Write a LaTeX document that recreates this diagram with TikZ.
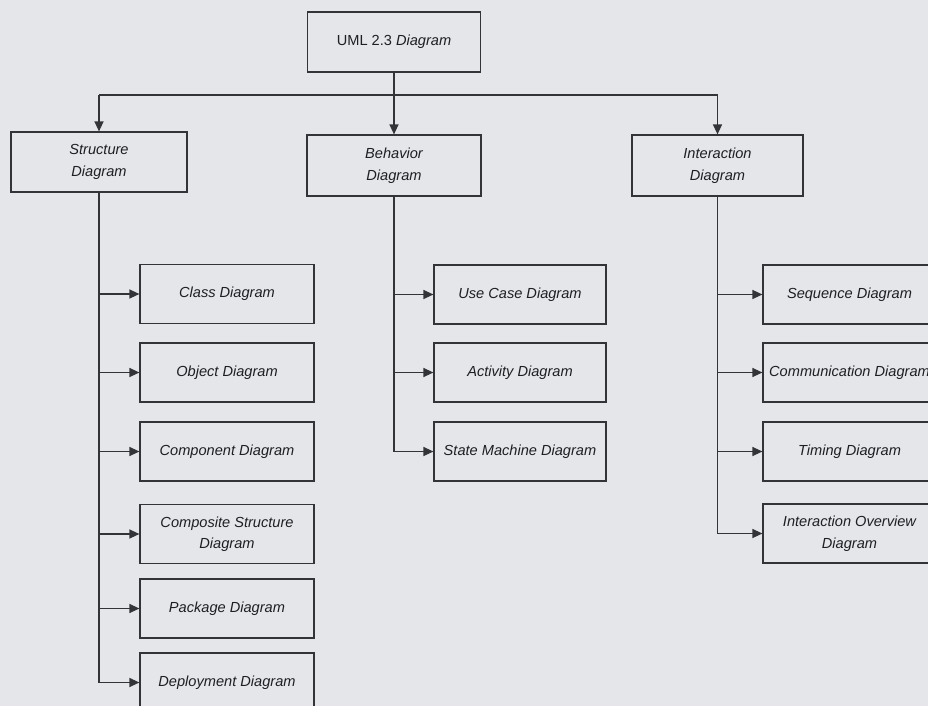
\documentclass[tikz,border=0pt]{standalone}
\usepackage{fontspec}
\setmainfont{Liberation Sans}
\usetikzlibrary{arrows.meta}
\definecolor{paper}{RGB}{228,230,234}
\definecolor{ink}{RGB}{50,52,56}
\definecolor{txt}{RGB}{30,31,35}
\tikzset{
  box/.style={draw=ink, line width=1.2pt, rectangle, minimum width=#1, minimum height=59pt,
    inner sep=0pt, align=center, text=txt, font=\fontsize{14.6}{21.5}\selectfont\itshape},
  box/.default=174pt,
  arr/.style={draw=ink, line width=1.3pt, -{Triangle[length=10pt,width=9pt]}},
  ln/.style={draw=ink, line width=1.3pt}
}
\begin{document}
\begin{tikzpicture}[x=1pt,y=-1pt]
\useasboundingbox (0,0) rectangle (928,706);
\fill[paper] (0,0) rectangle (928,706);
\clip (0,0) rectangle (928,706);

\node[box=173pt, minimum height=60pt] (uml) at (394,42) {\upshape UML 2.3 \itshape Diagram};

\node[box=176pt, minimum height=60pt] (struct) at (99,162) {Structure\\Diagram};
\node[box=174pt, minimum height=61pt] (behav) at (394,165.5) {Behavior\\Diagram};
\node[box=171pt, minimum height=61pt] (inter) at (717.5,165.5) {Interaction\\Diagram};

\node[box] (class) at (227,294) {Class Diagram};
\node[box] (object) at (227,372.5) {Object Diagram};
\node[box] (component) at (227,451.5) {Component Diagram};
\node[box] (composite) at (227,534) {Composite Structure\\Diagram};
\node[box] (package) at (227,608.5) {Package Diagram};
\node[box] (deploy) at (227,682.5) {Deployment Diagram};

\node[box=172pt] (usecase) at (520,294.5) {Use Case Diagram};
\node[box=172pt] (activity) at (520,372.5) {Activity Diagram};
\node[box=172pt] (state) at (520,451.5) {State Machine Diagram};

\node[box=173pt] (seq) at (849.5,294.5) {Sequence Diagram};
\node[box=173pt] (comm) at (849.5,372.5) {Communication Diagram};
\node[box=173pt] (timing) at (849.5,451.5) {Timing Diagram};
\node[box=173pt] (overview) at (849.5,533.5) {Interaction Overview\\Diagram};

\coordinate (bus) at (394,95);
\draw[ln] (uml.south) -- (bus);
\draw[ln] (struct.north |- bus) -- (inter.north |- bus);
\draw[arr] (struct.north |- bus) -- (struct.north);
\draw[arr] (bus) -- (behav.north);
\draw[arr] (inter.north |- bus) -- (inter.north);

\draw[ln] (struct.south) -- (struct.south |- deploy.west);
\foreach \c in {class,object,component,composite,package,deploy}
  \draw[arr] (struct.south |- \c.west) -- (\c.west);
\draw[ln] (behav.south) -- (behav.south |- state.west);
\foreach \c in {usecase,activity,state}
  \draw[arr] (behav.south |- \c.west) -- (\c.west);
\draw[ln] (inter.south) -- (inter.south |- overview.west);
\foreach \c in {seq,comm,timing,overview}
  \draw[arr] (inter.south |- \c.west) -- (\c.west);
\end{tikzpicture}
\end{document}
